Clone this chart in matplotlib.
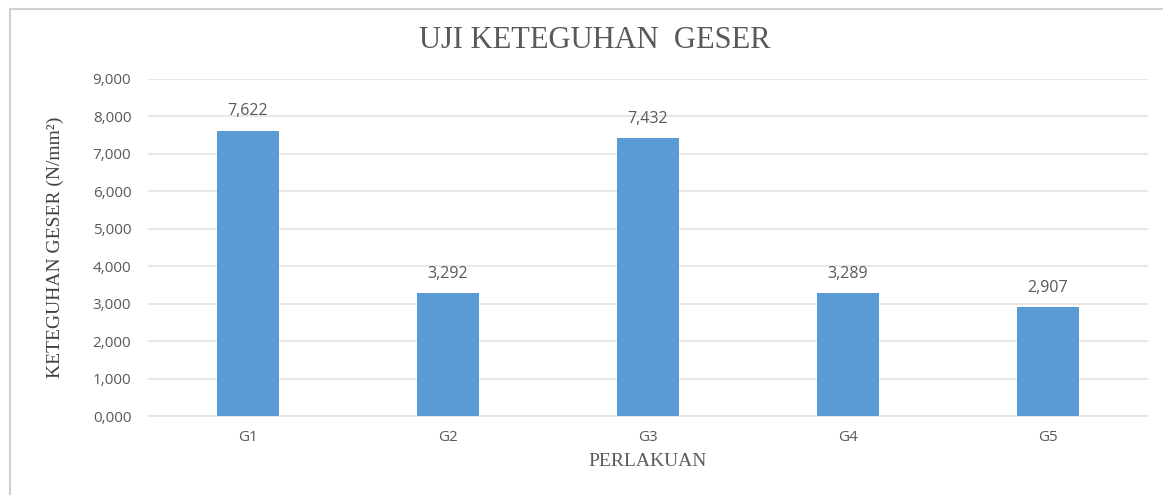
import matplotlib.pyplot as plt
from matplotlib.patches import Rectangle

categories = ['G1', 'G2', 'G3', 'G4', 'G5']
values = [7.622, 3.292, 7.432, 3.289, 2.907]
yticks = [0, 1, 2, 3, 4, 5, 6, 7, 8, 9]

W, H = 1163, 495
fig = plt.figure(figsize=(W / 100, H / 100), dpi=100)
ax = fig.add_axes([148 / W, 1 - 416 / H, 1000 / W, 337 / H])

# chart frame (cut off at right and bottom)
fig.add_artist(Rectangle((10 / W, -0.1), 1.2, 1 - 9 / H + 0.1, transform=fig.transFigure,
                         fill=False, edgecolor='#d0d0d0', linewidth=1.5))

ax.bar(range(len(categories)), values, width=0.31, color='#5b9bd5', zorder=3)
for i, v in enumerate(values):
    ax.annotate(f'{v:.3f}'.replace('.', ','), (i, v), xytext=(0, 8), textcoords='offset points',
                ha='center', va='bottom', fontsize=11.5, color='#595959', family='Open Sans')

ax.set_xlim(-0.5, len(categories) - 0.5)
ax.set_ylim(0, 9)
ax.set_yticks(yticks)
ax.set_yticklabels([f'{t},000' for t in yticks], family='Open Sans', fontsize=11, color='#595959')
ax.set_xticks(range(len(categories)))
ax.set_xticklabels(categories, family='Open Sans', fontsize=11, color='#595959')
ax.tick_params(length=0, pad=12)
ax.tick_params(axis='x', pad=10)
ax.grid(axis='y', color='#e3e3e3', linewidth=1.2, zorder=0)
for s in ['top', 'right', 'left']:
    ax.spines[s].set_visible(False)
ax.spines['bottom'].set_color('#e3e3e3')
ax.spines['bottom'].set_linewidth(1.2)

fig.text(595 / W, 1 - 41 / H, 'UJI KETEGUHAN  GESER', ha='center', va='center',
         fontsize=22, family='Liberation Serif', color='#595959')
fig.text(55 / W, 1 - 247 / H, 'KETEGUHAN GESER (N/mm²)', ha='center', va='center', rotation=90,
         fontsize=14, family='Liberation Serif', color='#404040')
fig.text(648 / W, 1 - 462 / H, 'PERLAKUAN', ha='center', va='center',
         fontsize=14, family='Liberation Serif', color='#595959')

fig.savefig('out.png', dpi=100)
